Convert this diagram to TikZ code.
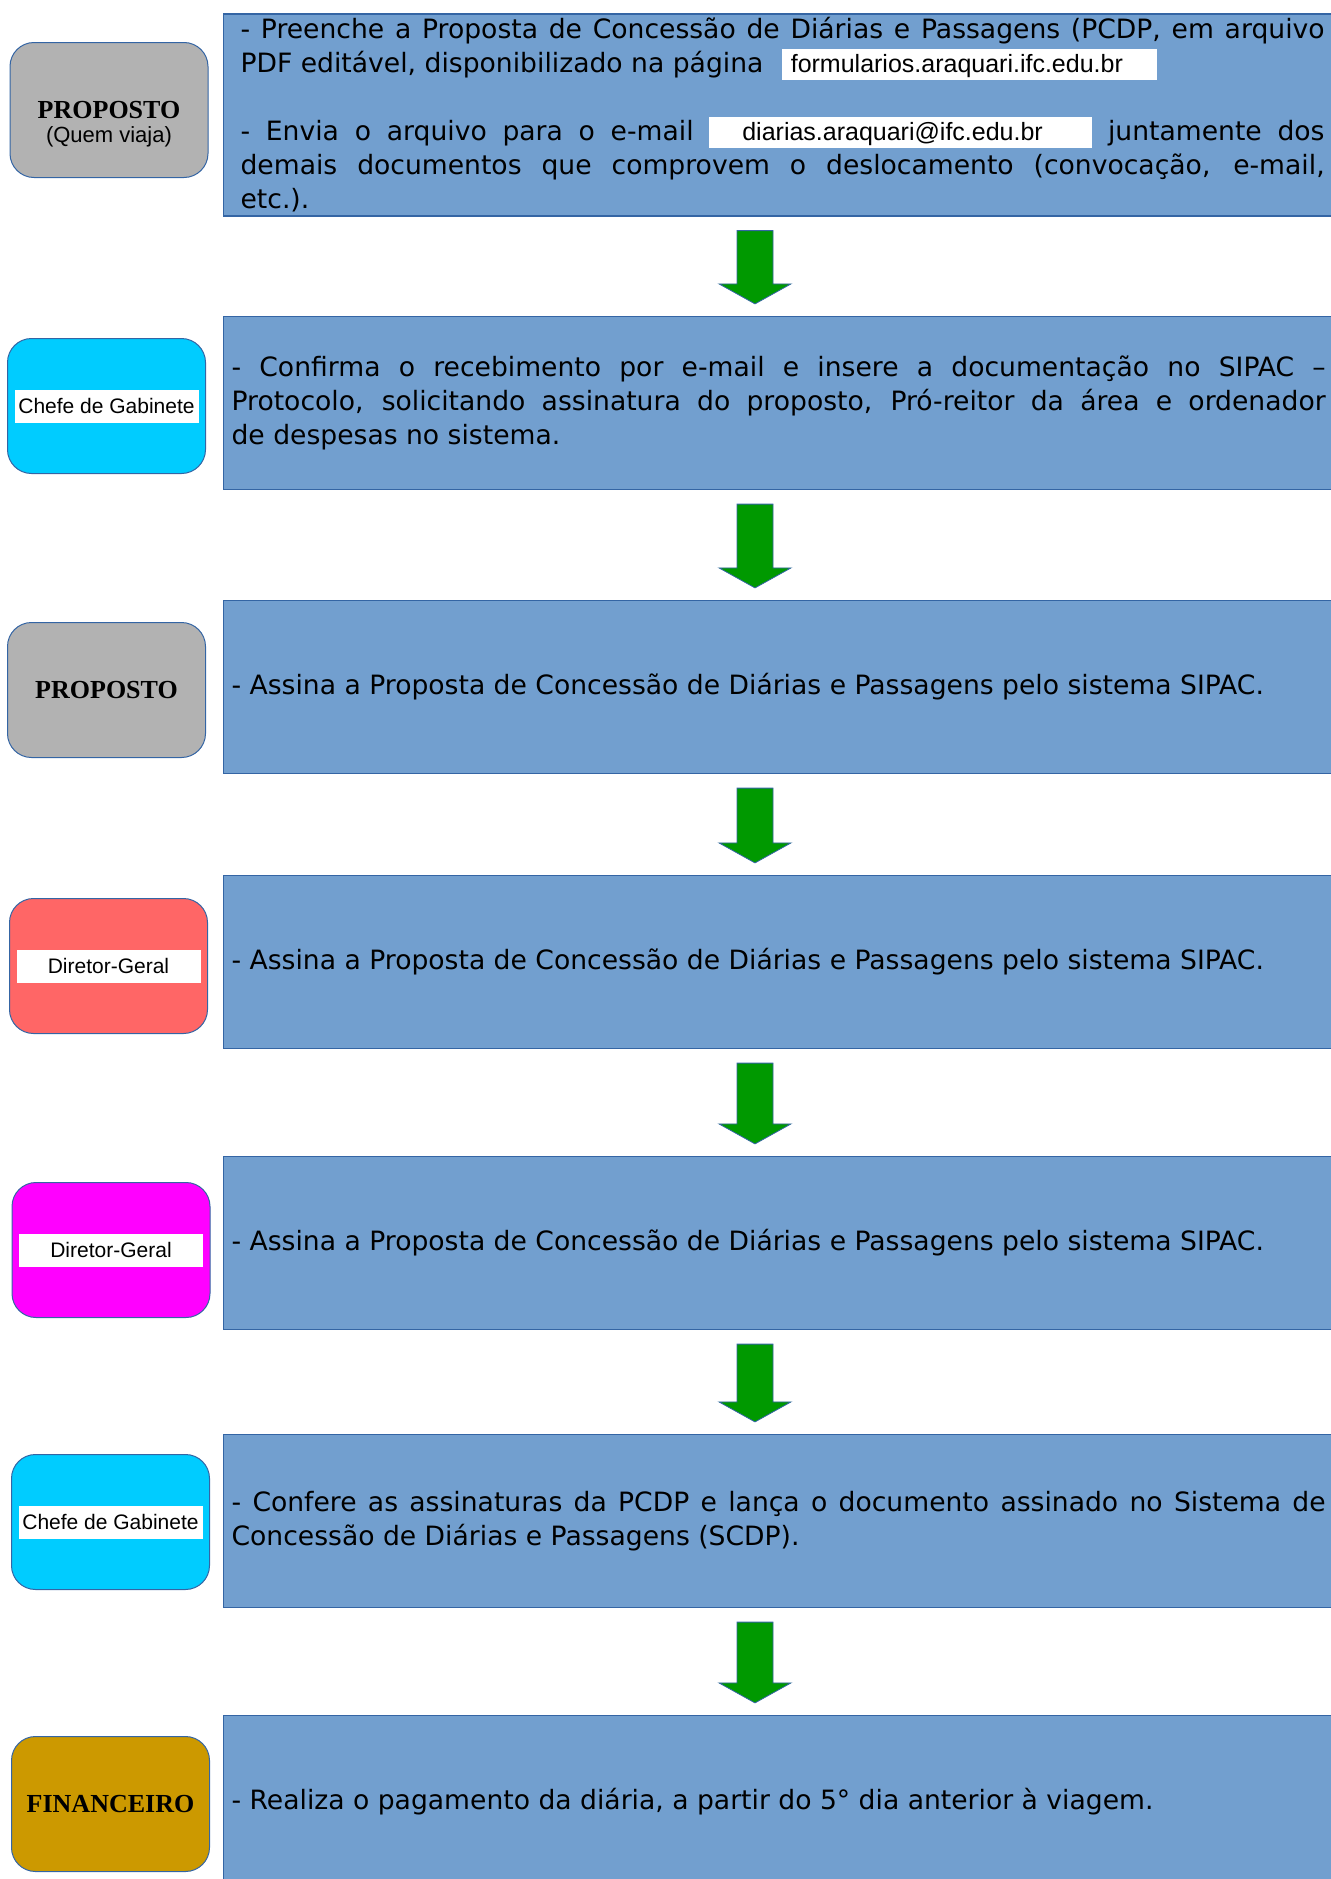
\documentclass[tikz,border=0pt]{standalone}
\usepackage{fontspec}
\setmainfont{Liberation Serif}
\setsansfont{Liberation Sans}
\newfontfamily\bodyfont{DejaVu Sans}
\usepackage{tikz}
\usetikzlibrary{calc}

\definecolor{boxblue}{HTML}{729FCF}
\definecolor{edgeblue}{HTML}{3465A4}
\definecolor{propgray}{HTML}{B2B2B2}
\definecolor{chefecyan}{HTML}{00CCFF}
\definecolor{dgred}{HTML}{FF6666}
\definecolor{dgmagenta}{HTML}{FF00FF}
\definecolor{fingold}{HTML}{CC9900}
\definecolor{arrowgreen}{HTML}{009900}

% white field with a web address inside the text
\newcommand{\webbox}[3]{\smash{\setlength{\fboxsep}{0pt}\colorbox{white}{\rule[-3.5pt]{0pt}{15.5pt}\hspace*{#1}\makebox[#2][l]{\sffamily\fontsize{12.5}{14}\selectfont #3}}}}

\begin{document}
\begin{tikzpicture}[x=0.5pt, y=-0.5pt,
  stage/.style={draw=edgeblue, fill=boxblue, line width=0.6pt, anchor=west, minimum height=86.5pt, inner xsep=4pt, inner ysep=0pt, text width=547pt, align=justify, font=\bodyfont\fontsize{13.3}{17}\selectfont},
  who/.style={draw=edgeblue, line width=0.5pt, rounded corners=12pt, minimum width=99pt, minimum height=67.5pt, inner sep=0pt, align=center, font=\bfseries\fontsize{13}{15}\selectfont},
  tag/.style={fill=white, minimum width=92pt, minimum height=16.5pt, inner sep=0pt, font=\sffamily\fontsize{10.5}{12}\selectfont},
  blockarrow/.style={fill=arrowgreen, draw=edgeblue, line width=0.4pt}]
\useasboundingbox (0,0) rectangle (1331,1879);
\coordinate (ax) at (755,0);

% Steps
\node[stage, inner xsep=8.5pt, text width=542pt, minimum height=101pt] (s1) at (223,115) {- Preenche a Proposta de Concessão de Diárias e Passagens (PCDP, em arquivo\linebreak PDF editável, disponibilizado na página \hspace{5pt}\webbox{4.5pt}{183pt}{formularios.araquari.ifc.edu.br}\\[17pt]
- Envia o arquivo para o e-mail \webbox{16.5pt}{175pt}{diarias.araquari@ifc.edu.br} juntamente dos\linebreak demais documentos que comprovem o deslocamento (convocação, e-mail,\linebreak etc.).};
\node[stage] (s2) at (223,403) {- Confirma o recebimento por e-mail e insere a documentação no SIPAC –\linebreak Protocolo, solicitando assinatura do proposto, Pró-reitor da área e ordenador\linebreak de despesas no sistema.};
\node[stage] (s3) at (223,687) {- Assina a Proposta de Concessão de Diárias e Passagens pelo sistema SIPAC.};
\node[stage] (s4) at (223,962) {- Assina a Proposta de Concessão de Diárias e Passagens pelo sistema SIPAC.};
\node[stage] (s5) at (223,1243) {- Assina a Proposta de Concessão de Diárias e Passagens pelo sistema SIPAC.};
\node[stage] (s6) at (223,1521) {- Confere as assinaturas da PCDP e lança o documento assinado no Sistema de\linebreak Concessão de Diárias e Passagens (SCDP).};
\node[stage] (s7) at (223,1802) {- Realiza o pagamento da diária, a partir do 5° dia anterior à viagem.};

% Who does it
\node[who, fill=propgray] (l1) at (109,110) {};
\node[align=center, font=\bfseries\fontsize{13}{14}\selectfont] (n1) at (109,124) {PROPOSTO\\[-2pt]{\mdseries\sffamily\fontsize{11}{13}\selectfont (Quem viaja)}};
\node[who, fill=chefecyan] (l2) at (106.5,406) {};
\node[who, fill=propgray] (l3) at (106.5,690) {PROPOSTO};
\node[who, fill=dgred] (l4) at (108.5,966) {};
\node[who, fill=dgmagenta] (l5) at (111,1250) {};
\node[who, fill=chefecyan] (l6) at (110.5,1522) {};
\node[who, fill=fingold] (l7) at (110.5,1804) {FINANCEIRO};
\node[tag] (t2) at (l2) {Chefe de Gabinete};
\node[tag] (t4) at (l4) {Diretor-Geral};
\node[tag] (t5) at (l5) {Diretor-Geral};
\node[tag] (t6) at (l6) {Chefe de Gabinete};

% Arrows
\foreach \a/\b in {s1/s2, s2/s3, s3/s4, s4/s5, s5/s6, s6/s7}{
\draw[blockarrow] ($(\a.south -| ax)+(-18,14)$) -- ($(\a.south -| ax)+(18,14)$) -- ($(\b.north -| ax)+(18,-32)$) -- ($(\b.north -| ax)+(36,-32)$) -- ($(\b.north -| ax)+(0,-12)$) -- ($(\b.north -| ax)+(-36,-32)$) -- ($(\b.north -| ax)+(-18,-32)$) -- cycle;
}
\end{tikzpicture}
\end{document}
